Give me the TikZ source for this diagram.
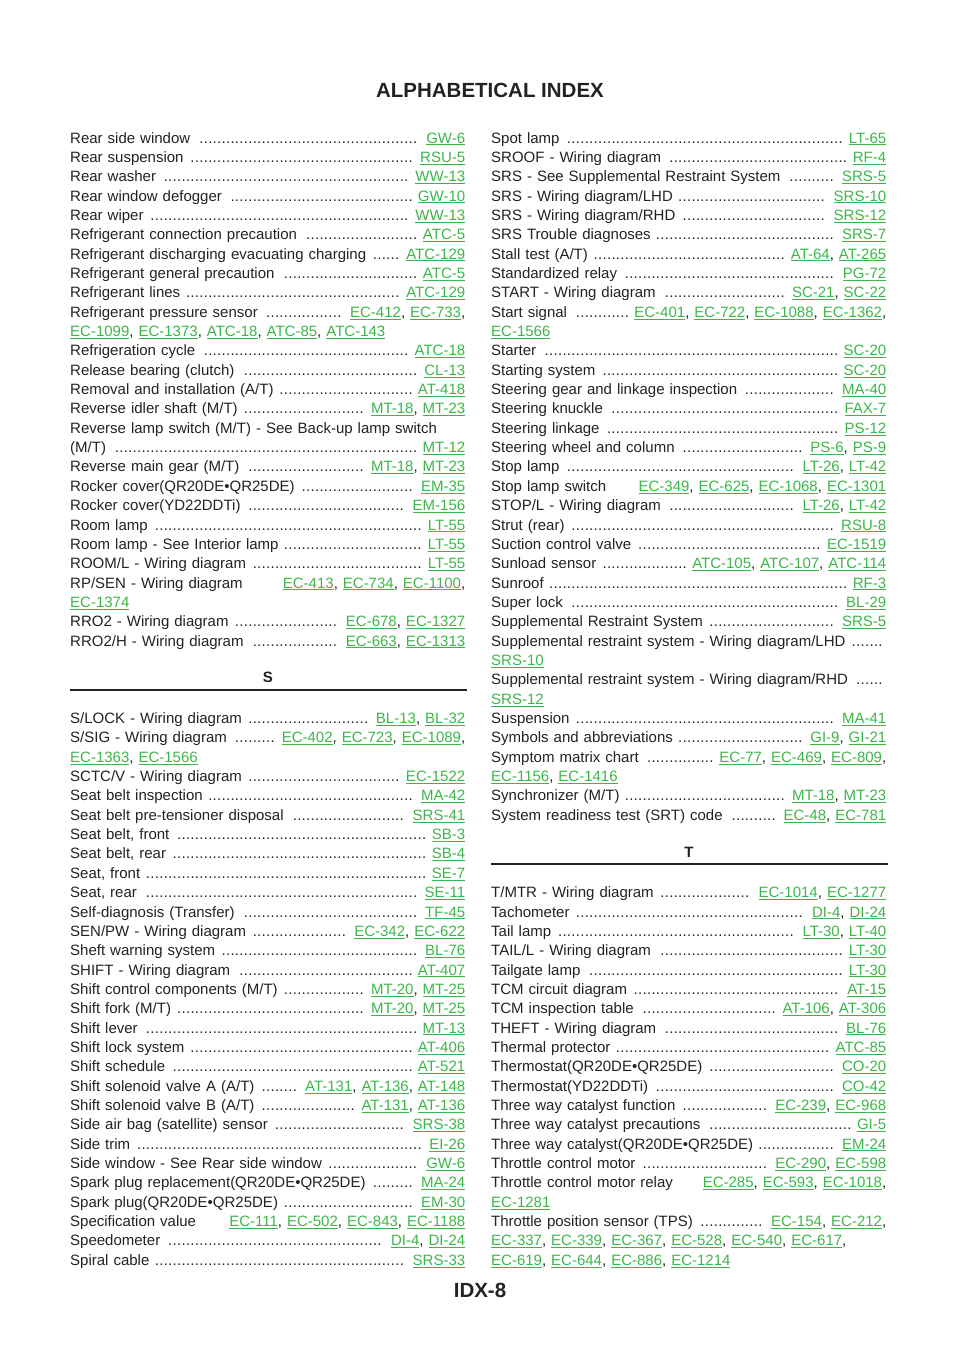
\documentclass[tikz,border=0pt]{standalone}
\usepackage{fontspec}
\setmainfont{Liberation Sans}
\definecolor{linkc}{HTML}{3DB54A}
\definecolor{txt}{HTML}{222222}
\newcommand\lk[1]{\textcolor{linkc}{\underline{#1}}}
\newcommand\dfill{\leaders\hbox to 4.45pt{\hss.\hss}\hfill\ }
\newcommand\ent[3]{\node[entry] at (#1,{138+19.35*#2+5}) {#3};}
\newcommand\LC[2]{\ent{70}{#1}{#2}}
\newcommand\RC[2]{\ent{491}{#1}{#2}}
\begin{document}
\begin{tikzpicture}[x=1pt,y=-1pt,
  entry/.style={anchor=base west,inner sep=0pt,text width=395pt,align=left,font=\fontsize{15}{18}\selectfont,text=txt},
  head/.style={font=\fontsize{15}{18}\selectfont\bfseries,text=txt,inner sep=0pt},
  rule/.style={draw=txt,line width=1.6pt}]
\useasboundingbox (0,0) rectangle (960,1358);
\node[font=\fontsize{20.5}{24}\selectfont\bfseries,text=txt] (title) at (490,90) {ALPHABETICAL INDEX};
\node[font=\fontsize{20.5}{24}\selectfont\bfseries,text=txt] (page) at (480,1290) {IDX-8};
% left column
\LC{0}{Rear side window \dfill\lk{GW-6}}
\LC{1}{Rear suspension \dfill\lk{RSU-5}}
\LC{2}{Rear washer \dfill\lk{WW-13}}
\LC{3}{Rear window defogger \dfill\lk{GW-10}}
\LC{4}{Rear wiper \dfill\lk{WW-13}}
\LC{5}{Refrigerant connection precaution \dfill\lk{ATC-5}}
\LC{6}{Refrigerant discharging evacuating charging \dfill\lk{ATC-129}}
\LC{7}{Refrigerant general precaution \dfill\lk{ATC-5}}
\LC{8}{Refrigerant lines \dfill\lk{ATC-129}}
\LC{9}{Refrigerant pressure sensor \dfill\lk{EC-412}, \lk{EC-733},}
\LC{10}{\lk{EC-1099}, \lk{EC-1373}, \lk{ATC-18}, \lk{ATC-85}, \lk{ATC-143}}
\LC{11}{Refrigeration cycle \dfill\lk{ATC-18}}
\LC{12}{Release bearing (clutch) \dfill\lk{CL-13}}
\LC{13}{Removal and installation (A/T) \dfill\lk{AT-418}}
\LC{14}{Reverse idler shaft (M/T) \dfill\lk{MT-18}, \lk{MT-23}}
\LC{15}{Reverse lamp switch (M/T) - See Back-up lamp switch}
\LC{16}{(M/T) \dfill\lk{MT-12}}
\LC{17}{Reverse main gear (M/T) \dfill\lk{MT-18}, \lk{MT-23}}
\LC{18}{Rocker cover(QR20DE•QR25DE) \dfill\lk{EM-35}}
\LC{19}{Rocker cover(YD22DDTi) \dfill\lk{EM-156}}
\LC{20}{Room lamp \dfill\lk{LT-55}}
\LC{21}{Room lamp - See Interior lamp \dfill\lk{LT-55}}
\LC{22}{ROOM/L - Wiring diagram \dfill\lk{LT-55}}
\LC{23}{RP/SEN - Wiring diagram \hfill\lk{EC-413}, \lk{EC-734}, \lk{EC-1100},}
\LC{24}{\lk{EC-1374}}
\LC{25}{RRO2 - Wiring diagram \dfill\lk{EC-678}, \lk{EC-1327}}
\LC{26}{RRO2/H - Wiring diagram \dfill\lk{EC-663}, \lk{EC-1313}}
\node[head] (hs) at (268,677) {S};
\draw[rule] (70,690) -- (467,690);
\LC{30}{S/LOCK - Wiring diagram \dfill\lk{BL-13}, \lk{BL-32}}
\LC{31}{S/SIG - Wiring diagram \dfill\lk{EC-402}, \lk{EC-723}, \lk{EC-1089},}
\LC{32}{\lk{EC-1363}, \lk{EC-1566}}
\LC{33}{SCTC/V - Wiring diagram \dfill\lk{EC-1522}}
\LC{34}{Seat belt inspection \dfill\lk{MA-42}}
\LC{35}{Seat belt pre-tensioner disposal \dfill\lk{SRS-41}}
\LC{36}{Seat belt, front \dfill\lk{SB-3}}
\LC{37}{Seat belt, rear \dfill\lk{SB-4}}
\LC{38}{Seat, front \dfill\lk{SE-7}}
\LC{39}{Seat, rear \dfill\lk{SE-11}}
\LC{40}{Self-diagnosis (Transfer) \dfill\lk{TF-45}}
\LC{41}{SEN/PW - Wiring diagram \dfill\lk{EC-342}, \lk{EC-622}}
\LC{42}{Sheft warning system \dfill\lk{BL-76}}
\LC{43}{SHIFT - Wiring diagram \dfill\lk{AT-407}}
\LC{44}{Shift control components (M/T) \dfill\lk{MT-20}, \lk{MT-25}}
\LC{45}{Shift fork (M/T) \dfill\lk{MT-20}, \lk{MT-25}}
\LC{46}{Shift lever \dfill\lk{MT-13}}
\LC{47}{Shift lock system \dfill\lk{AT-406}}
\LC{48}{Shift schedule \dfill\lk{AT-521}}
\LC{49}{Shift solenoid valve A (A/T) \dfill\lk{AT-131}, \lk{AT-136}, \lk{AT-148}}
\LC{50}{Shift solenoid valve B (A/T) \dfill\lk{AT-131}, \lk{AT-136}}
\LC{51}{Side air bag (satellite) sensor \dfill\lk{SRS-38}}
\LC{52}{Side trim \dfill\lk{EI-26}}
\LC{53}{Side window - See Rear side window \dfill\lk{GW-6}}
\LC{54}{Spark plug replacement(QR20DE•QR25DE) \dfill\lk{MA-24}}
\LC{55}{Spark plug(QR20DE•QR25DE) \dfill\lk{EM-30}}
\LC{56}{Specification value \hfill\lk{EC-111}, \lk{EC-502}, \lk{EC-843}, \lk{EC-1188}}
\LC{57}{Speedometer \dfill\lk{DI-4}, \lk{DI-24}}
\LC{58}{Spiral cable \dfill\lk{SRS-33}}
% right column
\RC{0}{Spot lamp \dfill\lk{LT-65}}
\RC{1}{SROOF - Wiring diagram \dfill\lk{RF-4}}
\RC{2}{SRS - See Supplemental Restraint System \dfill\lk{SRS-5}}
\RC{3}{SRS - Wiring diagram/LHD \dfill\lk{SRS-10}}
\RC{4}{SRS - Wiring diagram/RHD \dfill\lk{SRS-12}}
\RC{5}{SRS Trouble diagnoses \dfill\lk{SRS-7}}
\RC{6}{Stall test (A/T) \dfill\lk{AT-64}, \lk{AT-265}}
\RC{7}{Standardized relay \dfill\lk{PG-72}}
\RC{8}{START - Wiring diagram \dfill\lk{SC-21}, \lk{SC-22}}
\RC{9}{Start signal \dfill\lk{EC-401}, \lk{EC-722}, \lk{EC-1088}, \lk{EC-1362},}
\RC{10}{\lk{EC-1566}}
\RC{11}{Starter \dfill\lk{SC-20}}
\RC{12}{Starting system \dfill\lk{SC-20}}
\RC{13}{Steering gear and linkage inspection \dfill\lk{MA-40}}
\RC{14}{Steering knuckle \dfill\lk{FAX-7}}
\RC{15}{Steering linkage \dfill\lk{PS-12}}
\RC{16}{Steering wheel and column \dfill\lk{PS-6}, \lk{PS-9}}
\RC{17}{Stop lamp \dfill\lk{LT-26}, \lk{LT-42}}
\RC{18}{Stop lamp switch \hfill\lk{EC-349}, \lk{EC-625}, \lk{EC-1068}, \lk{EC-1301}}
\RC{19}{STOP/L - Wiring diagram \dfill\lk{LT-26}, \lk{LT-42}}
\RC{20}{Strut (rear) \dfill\lk{RSU-8}}
\RC{21}{Suction control valve \dfill\lk{EC-1519}}
\RC{22}{Sunload sensor \dfill\lk{ATC-105}, \lk{ATC-107}, \lk{ATC-114}}
\RC{23}{Sunroof \dfill\lk{RF-3}}
\RC{24}{Super lock \dfill\lk{BL-29}}
\RC{25}{Supplemental Restraint System \dfill\lk{SRS-5}}
\RC{26}{Supplemental restraint system - Wiring diagram/LHD \dfill}
\RC{27}{\lk{SRS-10}}
\RC{28}{Supplemental restraint system - Wiring diagram/RHD \dfill}
\RC{29}{\lk{SRS-12}}
\RC{30}{Suspension \dfill\lk{MA-41}}
\RC{31}{Symbols and abbreviations \dfill\lk{GI-9}, \lk{GI-21}}
\RC{32}{Symptom matrix chart \dfill\lk{EC-77}, \lk{EC-469}, \lk{EC-809},}
\RC{33}{\lk{EC-1156}, \lk{EC-1416}}
\RC{34}{Synchronizer (M/T) \dfill\lk{MT-18}, \lk{MT-23}}
\RC{35}{System readiness test (SRT) code \dfill\lk{EC-48}, \lk{EC-781}}
\node[head] (ht) at (689,852) {T};
\draw[rule] (491,864) -- (888,864);
\RC{39}{T/MTR - Wiring diagram \dfill\lk{EC-1014}, \lk{EC-1277}}
\RC{40}{Tachometer \dfill\lk{DI-4}, \lk{DI-24}}
\RC{41}{Tail lamp \dfill\lk{LT-30}, \lk{LT-40}}
\RC{42}{TAIL/L - Wiring diagram \dfill\lk{LT-30}}
\RC{43}{Tailgate lamp \dfill\lk{LT-30}}
\RC{44}{TCM circuit diagram \dfill\lk{AT-15}}
\RC{45}{TCM inspection table \dfill\lk{AT-106}, \lk{AT-306}}
\RC{46}{THEFT - Wiring diagram \dfill\lk{BL-76}}
\RC{47}{Thermal protector \dfill\lk{ATC-85}}
\RC{48}{Thermostat(QR20DE•QR25DE) \dfill\lk{CO-20}}
\RC{49}{Thermostat(YD22DDTi) \dfill\lk{CO-42}}
\RC{50}{Three way catalyst function \dfill\lk{EC-239}, \lk{EC-968}}
\RC{51}{Three way catalyst precautions \dfill\lk{GI-5}}
\RC{52}{Three way catalyst(QR20DE•QR25DE) \dfill\lk{EM-24}}
\RC{53}{Throttle control motor \dfill\lk{EC-290}, \lk{EC-598}}
\RC{54}{Throttle control motor relay \hfill\lk{EC-285}, \lk{EC-593}, \lk{EC-1018},}
\RC{55}{\lk{EC-1281}}
\RC{56}{Throttle position sensor (TPS) \dfill\lk{EC-154}, \lk{EC-212},}
\RC{57}{\lk{EC-337}, \lk{EC-339}, \lk{EC-367}, \lk{EC-528}, \lk{EC-540}, \lk{EC-617},}
\RC{58}{\lk{EC-619}, \lk{EC-644}, \lk{EC-886}, \lk{EC-1214}}
\end{tikzpicture}
\end{document}
